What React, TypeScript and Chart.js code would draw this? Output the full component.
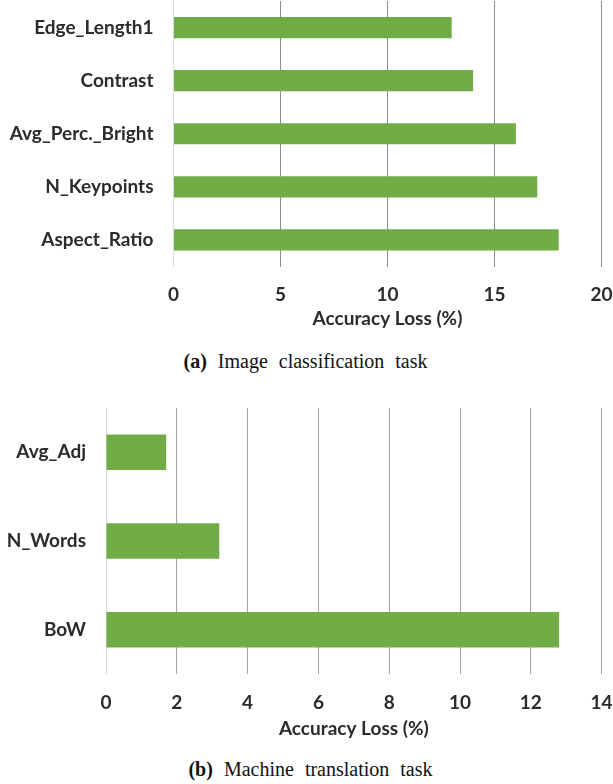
import React, { useEffect, useRef } from "react";
import { Chart, registerables } from "chart.js";

Chart.register(...registerables);

const imgFeatures = ["Edge_Length1", "Contrast", "Avg_Perc._Bright", "N_Keypoints", "Aspect_Ratio"];
const imgLoss = [13, 14, 16, 17, 18];
const imgTicks = { min: 0, max: 20, step: 5 };

const mtFeatures = ["Avg_Adj", "N_Words", "BoW"];
const mtLoss = [1.7, 3.2, 12.8];
const mtTicks = { min: 0, max: 14, step: 2 };

const axisTitle = "Accuracy Loss (%)";
const BAR = "#70AD47";
const TEXT = "#2b2b2b";
const FONT = "Lato";
const FS = 19;

type Cfg = {
  labels: string[];
  values: number[];
  ticks: { min: number; max: number; step: number };
  yWidth: number;
  xHeight: number;
  padTop: number;
  padRight: number;
  tickPad: number;
  titlePad: number;
  gridColor: string;
};

function makeChart(canvas: HTMLCanvasElement, c: Cfg) {
  return new Chart(canvas, {
    type: "bar",
    data: {
      labels: c.labels,
      datasets: [
        {
          data: c.values,
          backgroundColor: BAR,
          borderWidth: 0,
          barPercentage: 0.4,
          categoryPercentage: 1,
        },
      ],
    },
    options: {
      indexAxis: "y",
      animation: false,
      responsive: false,
      maintainAspectRatio: false,
      layout: { padding: { top: c.padTop, right: c.padRight, left: 0, bottom: 0 } },
      plugins: { legend: { display: false }, tooltip: { enabled: false }, title: { display: false } },
      scales: {
        x: {
          type: "linear",
          min: c.ticks.min,
          max: c.ticks.max,
          ticks: {
            stepSize: c.ticks.step,
            color: TEXT,
            font: { family: FONT, size: FS, weight: "bold" },
            padding: c.tickPad,
            maxRotation: 0,
          },
          grid: {
            drawTicks: false,
            color: (ctx: any) => (ctx.index === 0 ? "#d9d9d9" : c.gridColor),
            lineWidth: 1,
          },
          border: { display: false },
          title: {
            display: true,
            text: axisTitle,
            color: TEXT,
            font: { family: FONT, size: FS, weight: "bold" },
            padding: { top: 0, bottom: c.titlePad },
          },
          afterFit: (s: any) => {
            s.height = c.xHeight;
            s.paddingLeft = 0;
            s.paddingRight = 0;
          },
        },
        y: {
          type: "category",
          ticks: {
            color: TEXT,
            font: { family: FONT, size: FS, weight: "bold" },
            padding: 20,
          },
          grid: { display: false, drawTicks: false },
          border: { display: false },
          afterFit: (s: any) => {
            s.width = c.yWidth;
            s.paddingTop = 0;
            s.paddingBottom = 0;
          },
        },
      },
    },
  });
}

function BarPanel({ cfg, top, height }: { cfg: Cfg; top: number; height: number }) {
  const ref = useRef<HTMLCanvasElement>(null);
  useEffect(() => {
    if (!ref.current) return;
    const ch = makeChart(ref.current, cfg);
    return () => ch.destroy();
  }, []);
  return (
    <canvas
      ref={ref}
      width={613}
      height={height}
      style={{ position: "absolute", left: 0, top, width: 613, height }}
    />
  );
}

const captionStyle: React.CSSProperties = {
  position: "absolute",
  fontFamily: "'Liberation Serif', 'Times New Roman', serif",
  fontSize: 20,
  lineHeight: "20px",
  color: "#111",
  textAlign: "center",
  whiteSpace: "nowrap",
  wordSpacing: 6,
};

export default function App() {
  const topCfg: Cfg = {
    labels: imgFeatures,
    values: imgLoss,
    ticks: imgTicks,
    yWidth: 173.5,
    xHeight: 68.5,
    padTop: 1,
    padRight: 11.5,
    tickPad: 17,
    titlePad: 4.6,
    gridColor: "#8c8c8c",
  };
  const botCfg: Cfg = {
    labels: mtFeatures,
    values: mtLoss,
    ticks: mtTicks,
    yWidth: 106,
    xHeight: 71,
    padTop: 13,
    padRight: 11.4,
    tickPad: 17,
    titlePad: 4.6,
    gridColor: "#a6a6a6",
  };
  return (
    <div
      style={{
        position: "absolute",
        left: 0,
        top: 0,
        width: 613,
        height: 784,
        overflow: "hidden",
        background: "#fff",
      }}
    >
      <BarPanel cfg={topCfg} top={0} height={335} />
      <BarPanel cfg={botCfg} top={395} height={350} />
      <div style={{ ...captionStyle, left: 0, width: 611, top: 350.5 }}>
        <b>(a)</b> Image classification task
      </div>
      <div style={{ ...captionStyle, left: 4, width: 613, top: 759 }}>
        <b>(b)</b> Machine translation task
      </div>
    </div>
  );
}
